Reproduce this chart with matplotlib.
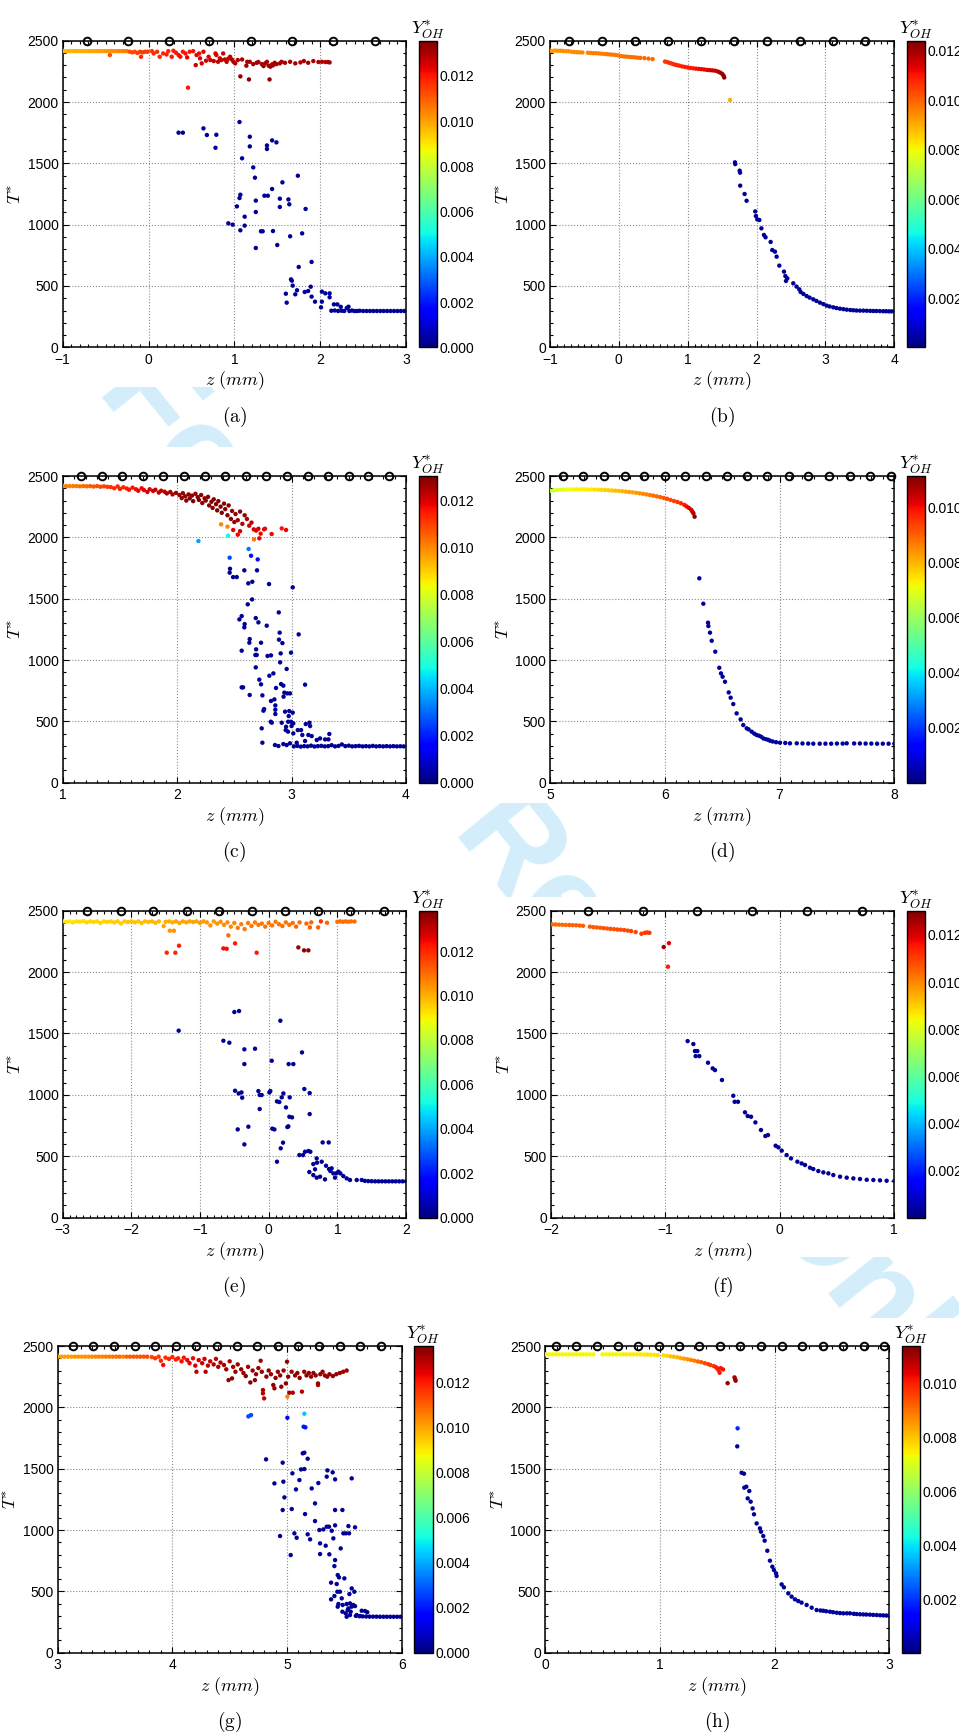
"""Flame-front scatter panels (a)-(h): T* versus z, coloured by Y*_OH."""

import numpy as np
import matplotlib
matplotlib.use("Agg")
import matplotlib.pyplot as plt
from matplotlib.colors import Normalize
from matplotlib.ticker import AutoMinorLocator, FormatStrFormatter, MultipleLocator
from matplotlib.transforms import Bbox, TransformedBbox

# ---------------------------------------------------------------- data
# hot points: (z [mm], T*, Y*_OH); cold points: (z, T*) with Y*_OH ~ 0
A_HOT = [
    (-1.00, 2415, 0.0096), (-0.97, 2415, 0.0096), (-0.94, 2415, 0.0097), (-0.91, 2415, 0.0097),
    (-0.88, 2415, 0.0097), (-0.85, 2415, 0.0098), (-0.82, 2415, 0.0098), (-0.79, 2415, 0.0098),
    (-0.76, 2415, 0.0099), (-0.73, 2415, 0.0099), (-0.70, 2415, 0.0099), (-0.67, 2415, 0.0100),
    (-0.64, 2415, 0.0100), (-0.61, 2415, 0.0100), (-0.58, 2415, 0.0101), (-0.55, 2415, 0.0101),
    (-0.52, 2415, 0.0101), (-0.49, 2415, 0.0102), (-0.45, 2383, 0.0112), (-0.46, 2415, 0.0102),
    (-0.43, 2415, 0.0102), (-0.40, 2415, 0.0103), (-0.37, 2415, 0.0103), (-0.34, 2415, 0.0104),
    (-0.31, 2415, 0.0104), (-0.28, 2415, 0.0105), (-0.25, 2415, 0.0105), (-0.22, 2410, 0.0112),
    (-0.19, 2405, 0.0113), (-0.16, 2410, 0.0113), (-0.13, 2400, 0.0114), (-0.10, 2410, 0.0114),
    (-0.087, 2369, 0.0118), (-0.07, 2405, 0.0115), (-0.04, 2410, 0.0115), (-0.01, 2410, 0.0115),
    (0.04, 2415, 0.0116), (0.06, 2396, 0.0117), (0.10, 2410, 0.0117), (0.13, 2369, 0.0118),
    (0.17, 2396, 0.0118), (0.21, 2388, 0.0119), (0.23, 2415, 0.0118), (0.27, 2369, 0.0120),
    (0.29, 2418, 0.0119), (0.32, 2402, 0.0120), (0.35, 2383, 0.0121), (0.37, 2369, 0.0122),
    (0.40, 2410, 0.0120), (0.43, 2396, 0.0121), (0.45, 2364, 0.0123), (0.46, 2117, 0.0120),
    (0.48, 2410, 0.0121), (0.52, 2415, 0.0121), (0.55, 2301, 0.0127), (0.56, 2383, 0.0123),
    (0.59, 2396, 0.0122), (0.60, 2356, 0.0124), (0.62, 2315, 0.0127), (0.64, 2410, 0.0123),
    (0.67, 2337, 0.0126), (0.70, 2369, 0.0125), (0.72, 2342, 0.0126), (0.76, 2334, 0.0127),
    (0.78, 2396, 0.0124), (0.79, 2383, 0.0125), (0.81, 2328, 0.0128), (0.83, 2356, 0.0127),
    (0.85, 2342, 0.0128), (0.87, 2396, 0.0126), (0.89, 2347, 0.0128), (0.91, 2328, 0.0129),
    (0.93, 2353, 0.0128), (0.95, 2369, 0.0128), (0.97, 2347, 0.0129), (0.99, 2328, 0.0130),
    (1.01, 2315, 0.0130), (1.04, 2342, 0.0129), (1.07, 2209, 0.0134), (1.09, 2347, 0.0130),
    (1.14, 2296, 0.0131), (1.15, 2328, 0.0130), (1.17, 2184, 0.0135), (1.18, 2328, 0.0130),
    (1.22, 2309, 0.0131), (1.26, 2320, 0.0131), (1.28, 2326, 0.0130), (1.32, 2309, 0.0131),
    (1.34, 2293, 0.0132), (1.36, 2315, 0.0131), (1.38, 2328, 0.0130), (1.40, 2296, 0.0132),
    (1.41, 2184, 0.0135), (1.42, 2288, 0.0132), (1.44, 2307, 0.0131), (1.45, 2299, 0.0132),
    (1.47, 2320, 0.0131), (1.49, 2309, 0.0131), (1.53, 2315, 0.0131), (1.55, 2328, 0.0130),
    (1.59, 2320, 0.0131), (1.65, 2328, 0.0130), (1.71, 2315, 0.0131), (1.77, 2323, 0.0130),
    (1.81, 2334, 0.0130), (1.86, 2320, 0.0131), (1.92, 2334, 0.0130), (1.98, 2326, 0.0130),
    (2.02, 2328, 0.0130), (2.06, 2326, 0.0130), (2.09, 2326, 0.0130), (2.11, 2323, 0.0130),
]
A_COLD = [
    (0.35, 1750), (0.40, 1750), (0.64, 1785), (0.68, 1731), (0.79, 1733), (0.78, 1627),
    (1.06, 1837), (1.18, 1717), (1.18, 1638), (1.38, 1646), (1.38, 1617), (1.44, 1687),
    (1.49, 1671), (1.09, 1541), (1.22, 1467), (1.24, 1383), (1.74, 1399), (1.56, 1345),
    (1.44, 1291), (1.35, 1236), (1.39, 1236), (1.07, 1244), (1.06, 1217), (1.53, 1212),
    (1.63, 1206), (1.25, 1196), (1.03, 1149), (1.53, 1144), (1.64, 1166), (1.83, 1128),
    (1.12, 1065), (1.25, 1103), (0.93, 1011), (0.98, 1000), (1.12, 992), (1.07, 954),
    (1.31, 946), (1.33, 946), (1.45, 948), (1.79, 929), (1.65, 905), (1.50, 834),
    (1.25, 810), (1.75, 655), (1.90, 696), (1.66, 554), (1.67, 543), (1.68, 503),
    (1.60, 437), (1.61, 364), (1.71, 432), (1.73, 465), (1.82, 451), (1.86, 459),
    (1.89, 494), (1.90, 413), (1.94, 372), (2.01, 326), (2.02, 454), (2.02, 372),
    (2.06, 440), (2.11, 440), (2.11, 408), (2.13, 298), (2.16, 350), (2.17, 300),
    (2.20, 350), (2.21, 296), (2.24, 330), (2.25, 298), (2.28, 296), (2.31, 320),
    (2.33, 331), (2.34, 296), (2.37, 300), (2.40, 296), (2.43, 296), (2.46, 298),
    (2.50, 296), (2.54, 296), (2.58, 296), (2.62, 296), (2.66, 296), (2.70, 296),
    (2.74, 296), (2.78, 296), (2.82, 296), (2.86, 296), (2.90, 296), (2.94, 296), (2.98, 296),
]

B_HOT = [
    (-1.00, 2418, 0.0093), (-0.97, 2416, 0.0093), (-0.93, 2420, 0.0093), (-0.89, 2418, 0.0093),
    (-0.85, 2418, 0.0094), (-0.81, 2416, 0.0094), (-0.77, 2414, 0.0094), (-0.73, 2414, 0.0094),
    (-0.69, 2410, 0.0094), (-0.65, 2408, 0.0095), (-0.61, 2406, 0.0095), (-0.57, 2405, 0.0095),
    (-0.53, 2404, 0.0095), (-0.45, 2402, 0.0095), (-0.41, 2400, 0.0096), (-0.37, 2398, 0.0096),
    (-0.33, 2398, 0.0096), (-0.29, 2396, 0.0096), (-0.25, 2394, 0.0096), (-0.21, 2392, 0.0096),
    (-0.17, 2390, 0.0097), (-0.13, 2388, 0.0097), (-0.09, 2386, 0.0097), (-0.05, 2384, 0.0097),
    (-0.01, 2380, 0.0097), (0.03, 2375, 0.0097), (0.07, 2372, 0.0098), (0.11, 2370, 0.0098),
    (0.15, 2368, 0.0098), (0.19, 2366, 0.0098), (0.23, 2364, 0.0098), (0.27, 2362, 0.0098),
    (0.31, 2360, 0.0099), (0.37, 2358, 0.0099), (0.43, 2354, 0.0099), (0.49, 2350, 0.0099),
    (0.67, 2330, 0.0106), (0.70, 2326, 0.0106), (0.73, 2320, 0.0107), (0.76, 2315, 0.0107),
    (0.79, 2309, 0.0107), (0.82, 2304, 0.0108), (0.85, 2300, 0.0108), (0.88, 2296, 0.0108),
    (0.92, 2290, 0.0109), (0.96, 2286, 0.0109), (1.00, 2282, 0.0109), (1.04, 2278, 0.0110),
    (1.08, 2275, 0.0110), (1.12, 2272, 0.0111), (1.16, 2270, 0.0111), (1.20, 2268, 0.0112),
    (1.24, 2265, 0.0112), (1.28, 2262, 0.0113), (1.32, 2260, 0.0114), (1.36, 2258, 0.0115),
    (1.40, 2255, 0.0116), (1.44, 2248, 0.0117), (1.47, 2240, 0.0119), (1.50, 2230, 0.0120),
    (1.52, 2215, 0.0121), (1.53, 2200, 0.0123), (1.614, 2016, 0.0090),
]
B_COLD = [
    (1.686, 1508), (1.69, 1494), (1.754, 1440), (1.76, 1424), (1.762, 1318), (1.826, 1250),
    (1.855, 1195), (1.98, 1108), (1.99, 1070), (2.01, 1043), (2.04, 1038), (2.07, 970),
    (2.107, 916), (2.13, 897), (2.204, 859), (2.228, 793), (2.267, 780), (2.291, 739),
    (2.33, 666), (2.398, 617), (2.418, 581), (2.446, 562), (2.427, 541), (2.533, 522),
    (2.58, 495), (2.62, 473), (2.64, 451), (2.68, 435), (2.727, 418), (2.77, 405),
    (2.824, 391), (2.87, 378), (2.92, 364), (2.97, 352), (3.017, 340), (3.06, 333),
    (3.114, 326), (3.16, 320), (3.21, 315), (3.26, 311), (3.308, 307), (3.36, 304),
    (3.405, 302), (3.45, 300), (3.50, 299), (3.55, 299), (3.60, 298), (3.65, 297),
    (3.695, 296), (3.74, 296), (3.79, 295), (3.84, 294), (3.88, 294), (3.92, 293),
    (3.96, 293), (4.00, 293),
]

C_HOT = [
    (1.00, 2418, 0.0100), (1.03, 2418, 0.0101), (1.06, 2418, 0.0101), (1.09, 2418, 0.0102),
    (1.12, 2418, 0.0102), (1.15, 2416, 0.0103), (1.18, 2418, 0.0104), (1.21, 2416, 0.0105),
    (1.24, 2418, 0.0106), (1.27, 2414, 0.0107), (1.30, 2418, 0.0108), (1.33, 2412, 0.0109),
    (1.36, 2416, 0.0110), (1.39, 2412, 0.0111), (1.42, 2410, 0.0112), (1.45, 2400, 0.0113),
    (1.48, 2415, 0.0113), (1.50, 2395, 0.0114), (1.53, 2408, 0.0114), (1.56, 2398, 0.0115),
    (1.58, 2388, 0.0116), (1.61, 2405, 0.0116), (1.64, 2392, 0.0117), (1.66, 2380, 0.0118),
    (1.69, 2400, 0.0118), (1.71, 2385, 0.0119), (1.74, 2370, 0.0120), (1.76, 2392, 0.0120),
    (1.79, 2378, 0.0121), (1.81, 2388, 0.0122), (1.84, 2365, 0.0123), (1.86, 2380, 0.0123),
    (1.89, 2372, 0.0124), (1.91, 2358, 0.0125), (1.94, 2370, 0.0125), (1.96, 2350, 0.0126),
    (1.99, 2362, 0.0126), (2.02, 2345, 0.0127), (2.04, 2320, 0.0128), (2.05, 2360, 0.0127),
    (2.07, 2335, 0.0128), (2.08, 2300, 0.0129), (2.10, 2350, 0.0128), (2.11, 2318, 0.0129),
    (2.13, 2340, 0.0128), (2.14, 2295, 0.0129), (2.16, 2355, 0.0128), (2.18, 2328, 0.0129),
    (2.19, 2305, 0.0129), (2.21, 2345, 0.0128), (2.22, 2280, 0.0130), (2.24, 2318, 0.0129),
    (2.25, 2300, 0.0129), (2.27, 2330, 0.0129), (2.28, 2260, 0.0130), (2.30, 2290, 0.0130),
    (2.31, 2240, 0.0130), (2.32, 2310, 0.0129), (2.34, 2270, 0.0130), (2.35, 2220, 0.0130),
    (2.36, 2295, 0.0129), (2.38, 2250, 0.0130), (2.39, 2200, 0.0130), (2.41, 2275, 0.0129),
    (2.42, 2230, 0.0130), (2.44, 2180, 0.0130), (2.45, 2260, 0.0129), (2.47, 2150, 0.0128),
    (2.48, 2215, 0.0129), (2.50, 2125, 0.0127), (2.51, 2190, 0.0128), (2.53, 2140, 0.0126),
    (2.55, 2210, 0.0128), (2.55, 2050, 0.0120), (2.57, 2110, 0.0124), (2.59, 2180, 0.0127),
    (2.61, 2150, 0.0125), (2.63, 2095, 0.0122), (2.65, 2120, 0.0123), (2.67, 2065, 0.0120),
    (2.69, 2055, 0.0119), (2.71, 2070, 0.0120), (2.73, 2030, 0.0118), (2.76, 2065, 0.0119),
    (2.384, 2106, 0.0100), (2.44, 2087, 0.0100), (2.445, 2013, 0.0048), (2.186, 1970, 0.0037),
    (2.672, 1983, 0.0102), (2.718, 1992, 0.0118), (2.826, 2027, 0.0118), (2.914, 2073, 0.0116),
    (2.952, 2060, 0.0118), (2.768, 2070, 0.0118), (2.53, 2022, 0.0118), (2.49, 2060, 0.0119),
    (2.625, 1905, 0.0032), (2.459, 1834, 0.0026), (2.646, 1850, 0.0018), (2.704, 1820, 0.0018),
]
C_COLD = [
    (2.462, 1744), (2.459, 1712), (2.587, 1731), (2.489, 1676), (2.521, 1676), (2.698, 1731),
    (2.622, 1625), (2.657, 1638), (2.803, 1619), (3.01, 1592), (2.617, 1454), (2.655, 1494),
    (2.544, 1331), (2.564, 1358), (2.59, 1293), (2.587, 1266), (2.687, 1342), (2.71, 1307),
    (2.783, 1280), (2.888, 1388), (3.062, 1209), (2.896, 1223), (2.634, 1171), (2.631, 1141),
    (2.733, 1141), (2.89, 1166), (2.92, 1138), (2.564, 1076), (2.69, 1087), (2.684, 1041),
    (2.695, 1041), (2.79, 1033), (2.82, 1038), (2.905, 1054), (2.995, 1060), (2.687, 940),
    (2.90, 981), (2.957, 927), (2.806, 872), (2.841, 891), (2.718, 840), (2.733, 802),
    (2.864, 772), (2.908, 804), (2.928, 791), (3.118, 799), (2.564, 777), (2.576, 777),
    (2.634, 715), (2.745, 712), (2.937, 734), (2.963, 728), (2.986, 728), (2.85, 679),
    (2.82, 666), (2.93, 701), (2.858, 630), (2.76, 600), (2.754, 587), (2.858, 595),
    (2.858, 560), (2.943, 579), (2.98, 584), (3.01, 571), (2.975, 543), (2.97, 497),
    (2.995, 497), (3.015, 484), (3.00, 462), (2.818, 497), (2.827, 489), (2.914, 489),
    (2.952, 456), (2.949, 429), (2.969, 416), (3.015, 402), (3.054, 429), (3.083, 429),
    (3.124, 478), (3.156, 489), (3.162, 462), (3.094, 389), (3.147, 389), (3.176, 380),
    (3.33, 397), (3.249, 361), (3.293, 353), (3.322, 353), (3.22, 348), (3.118, 340),
    (3.045, 326), (2.739, 443), (2.745, 326), (2.855, 307), (2.885, 299), (2.928, 315),
    (2.957, 307), (2.986, 321), (3.02, 296), (3.05, 300), (3.08, 294), (3.11, 298),
    (3.14, 296), (3.17, 302), (3.20, 295), (3.23, 298), (3.26, 300), (3.29, 296),
    (3.32, 298), (3.35, 306), (3.38, 296), (3.41, 300), (3.44, 312), (3.47, 298),
    (3.50, 302), (3.53, 296), (3.56, 298), (3.59, 300), (3.62, 296), (3.65, 298),
    (3.68, 296), (3.71, 300), (3.74, 296), (3.77, 298), (3.80, 296), (3.83, 298),
    (3.86, 296), (3.89, 298), (3.92, 296), (3.95, 297), (3.98, 296),
]

D_HOT = [
    (5.00, 2380, 0.0064), (5.03, 2383, 0.0066), (5.06, 2386, 0.0068), (5.09, 2388, 0.0069),
    (5.12, 2389, 0.0070), (5.15, 2390, 0.0071), (5.18, 2391, 0.0071), (5.21, 2391, 0.0072),
    (5.24, 2391, 0.0072), (5.27, 2391, 0.0073), (5.30, 2391, 0.0073), (5.33, 2390, 0.0074),
    (5.36, 2390, 0.0074), (5.39, 2389, 0.0075), (5.42, 2388, 0.0075), (5.45, 2387, 0.0076),
    (5.48, 2386, 0.0077), (5.51, 2384, 0.0077), (5.54, 2382, 0.0078), (5.57, 2380, 0.0079),
    (5.60, 2378, 0.0079), (5.63, 2376, 0.0080), (5.66, 2373, 0.0081), (5.69, 2370, 0.0082),
    (5.72, 2367, 0.0082), (5.75, 2363, 0.0083), (5.78, 2359, 0.0084), (5.81, 2355, 0.0085),
    (5.84, 2350, 0.0086), (5.87, 2345, 0.0087), (5.90, 2340, 0.0088), (5.93, 2334, 0.0089),
    (5.96, 2328, 0.0090), (5.99, 2321, 0.0091), (6.02, 2314, 0.0092), (6.05, 2305, 0.0093),
    (6.08, 2296, 0.0094), (6.11, 2288, 0.0095), (6.14, 2278, 0.0097), (6.17, 2265, 0.0098),
    (6.19, 2252, 0.0100), (6.21, 2240, 0.0101), (6.23, 2225, 0.0103), (6.24, 2210, 0.0104),
    (6.25, 2195, 0.0106), (6.26, 2168, 0.0110),
]
D_COLD = [
    (6.301, 1666), (6.336, 1459), (6.377, 1304), (6.38, 1277), (6.394, 1223), (6.409, 1157),
    (6.44, 1068), (6.475, 937), (6.49, 891), (6.504, 864), (6.525, 823), (6.557, 736),
    (6.574, 693), (6.597, 641), (6.626, 565), (6.661, 516), (6.684, 470), (6.714, 443),
    (6.73, 435), (6.757, 416), (6.78, 400), (6.80, 389), (6.82, 383), (6.84, 375),
    (6.859, 361), (6.88, 355), (6.90, 350), (6.917, 342), (6.94, 336), (6.97, 330),
    (7.004, 326), (7.05, 324), (7.091, 321), (7.15, 321), (7.20, 320), (7.25, 319),
    (7.294, 318), (7.35, 318), (7.40, 318), (7.45, 318), (7.50, 319), (7.55, 319),
    (7.585, 321), (7.65, 320), (7.70, 320), (7.75, 319), (7.80, 319), (7.85, 318),
    (7.90, 318), (7.95, 318), (8.00, 318),
]

E_HOT = [
    (-3.00, 2413, 0.0092), (-2.95, 2408, 0.0092), (-2.90, 2413, 0.0092), (-2.85, 2405, 0.0093),
    (-2.80, 2413, 0.0093), (-2.75, 2410, 0.0093), (-2.70, 2415, 0.0093), (-2.65, 2405, 0.0094),
    (-2.60, 2413, 0.0094), (-2.55, 2408, 0.0094), (-2.50, 2413, 0.0094), (-2.45, 2400, 0.0095),
    (-2.40, 2413, 0.0095), (-2.35, 2408, 0.0095), (-2.30, 2413, 0.0095), (-2.25, 2405, 0.0096),
    (-2.20, 2413, 0.0096), (-2.15, 2396, 0.0096), (-2.10, 2413, 0.0096), (-2.05, 2408, 0.0097),
    (-2.00, 2413, 0.0097), (-1.95, 2405, 0.0097), (-1.90, 2413, 0.0097), (-1.85, 2400, 0.0098),
    (-1.80, 2413, 0.0098), (-1.75, 2408, 0.0098), (-1.70, 2413, 0.0099), (-1.65, 2402, 0.0099),
    (-1.60, 2413, 0.0099), (-1.53, 2375, 0.0101), (-1.50, 2410, 0.0100), (-1.45, 2413, 0.0100),
    (-1.44, 2337, 0.0104), (-1.40, 2405, 0.0100), (-1.38, 2337, 0.0104), (-1.35, 2413, 0.0101),
    (-1.30, 2400, 0.0101), (-1.25, 2413, 0.0101), (-1.20, 2405, 0.0102), (-1.15, 2413, 0.0102),
    (-1.10, 2408, 0.0102), (-1.05, 2413, 0.0102), (-1.00, 2400, 0.0103), (-0.95, 2413, 0.0103),
    (-0.90, 2405, 0.0103), (-0.85, 2380, 0.0104), (-0.80, 2413, 0.0103), (-0.75, 2395, 0.0104),
    (-0.70, 2410, 0.0104), (-0.65, 2385, 0.0105), (-0.60, 2405, 0.0105), (-0.55, 2370, 0.0106),
    (-0.50, 2400, 0.0106), (-0.45, 2360, 0.0107), (-0.40, 2390, 0.0107), (-0.35, 2350, 0.0108),
    (-0.30, 2400, 0.0107), (-0.25, 2375, 0.0108), (-0.20, 2405, 0.0107), (-0.15, 2385, 0.0108),
    (-0.10, 2395, 0.0108), (-0.05, 2370, 0.0109), (0.00, 2400, 0.0108), (0.05, 2380, 0.0109),
    (0.10, 2410, 0.0108), (0.15, 2390, 0.0109), (0.20, 2375, 0.0110), (0.25, 2405, 0.0109),
    (0.30, 2385, 0.0110), (0.35, 2400, 0.0110), (0.40, 2370, 0.0111), (0.45, 2405, 0.0110),
    (0.55, 2395, 0.0111), (0.60, 2364, 0.0112), (0.62, 2405, 0.0111), (0.72, 2364, 0.0112),
    (0.76, 2413, 0.0118), (0.85, 2402, 0.0111), (1.00, 2410, 0.0110), (1.04, 2413, 0.0110),
    (1.08, 2410, 0.0110), (1.12, 2413, 0.0110), (1.16, 2410, 0.0110), (1.20, 2413, 0.0110),
    (1.25, 2412, 0.0110),
    (-1.485, 2158, 0.0120), (-1.359, 2158, 0.0120), (-1.306, 2215, 0.0122), (-0.587, 2299, 0.0110),
    (-0.49, 2234, 0.0122), (-0.66, 2193, 0.0124), (-0.612, 2190, 0.0124), (-0.175, 2158, 0.0122),
    (0.432, 2201, 0.0134), (0.515, 2177, 0.0136), (0.578, 2177, 0.0136),
]
E_COLD = [
    (-1.311, 1523), (-0.50, 1675), (-0.432, 1683), (0.17, 1604), (-0.66, 1441), (-0.573, 1425),
    (-0.354, 1371), (-0.199, 1376), (-0.354, 1251), (0.485, 1346), (0.044, 1278), (0.291, 1251),
    (0.359, 1251), (-0.49, 1034), (-0.437, 1012), (-0.396, 1020), (-0.386, 977), (-0.15, 1031),
    (-0.131, 999), (-0.102, 999), (0.01, 1020), (0.024, 1031), (0.214, 1012), (0.19, 980),
    (0.121, 947), (0.155, 942), (0.252, 898), (0.306, 980), (0.519, 1048), (0.597, 1015),
    (-0.131, 885), (0.301, 822), (0.34, 817), (0.597, 844), (-0.451, 719), (-0.296, 741),
    (0.053, 725), (0.083, 719), (0.272, 738), (0.286, 744), (-0.354, 597), (0.209, 611),
    (0.175, 565), (0.121, 456), (0.447, 510), (0.50, 510), (0.529, 537), (0.578, 543),
    (0.607, 537), (0.592, 372), (0.65, 437), (0.675, 394), (0.699, 483), (0.704, 448),
    (0.772, 456), (0.786, 613), (0.874, 613), (0.835, 423), (0.879, 396), (0.898, 380),
    (0.917, 402), (0.942, 361), (0.985, 361), (1.015, 375), (1.044, 361), (0.65, 347),
    (0.699, 326), (0.748, 334), (0.82, 312), (0.966, 326), (1.087, 339), (1.136, 320),
    (1.184, 307), (1.282, 307), (1.355, 307), (1.40, 300), (1.45, 298), (1.50, 297),
    (1.55, 296), (1.60, 296), (1.65, 296), (1.70, 296), (1.75, 296), (1.80, 296),
    (1.85, 296), (1.90, 296), (1.95, 296), (2.00, 296),
]

F_HOT = [
    (-1.99, 2388, 0.0104), (-1.96, 2388, 0.0104), (-1.93, 2386, 0.0104), (-1.90, 2385, 0.0104),
    (-1.87, 2384, 0.0104), (-1.84, 2383, 0.0105), (-1.81, 2382, 0.0105), (-1.78, 2381, 0.0105),
    (-1.75, 2379, 0.0105), (-1.72, 2377, 0.0105), (-1.66, 2370, 0.0106), (-1.63, 2366, 0.0106),
    (-1.60, 2364, 0.0106), (-1.57, 2361, 0.0106), (-1.54, 2358, 0.0107), (-1.51, 2355, 0.0107),
    (-1.48, 2352, 0.0107), (-1.45, 2350, 0.0107), (-1.42, 2347, 0.0108), (-1.39, 2345, 0.0108),
    (-1.36, 2342, 0.0108), (-1.33, 2338, 0.0108), (-1.30, 2334, 0.0109), (-1.26, 2326, 0.0109),
    (-1.21, 2312, 0.0110), (-1.18, 2320, 0.0110), (-1.16, 2323, 0.0110), (-1.14, 2320, 0.0111),
    (-1.015, 2204, 0.0127), (-0.969, 2236, 0.0118), (-0.978, 2044, 0.0115),
]
F_COLD = [
    (-0.806, 1438), (-0.756, 1414), (-0.742, 1357), (-0.721, 1357), (-0.736, 1316), (-0.704, 1316),
    (-0.628, 1262), (-0.587, 1216), (-0.567, 1202), (-0.506, 1121), (-0.407, 993), (-0.395, 944),
    (-0.366, 944), (-0.305, 858), (-0.281, 828), (-0.252, 822), (-0.214, 776), (-0.165, 714),
    (-0.127, 665), (-0.104, 673), (-0.037, 586), (-0.013, 573), (0.016, 546), (0.059, 510),
    (0.097, 483), (0.153, 456), (0.19, 442), (0.22, 429), (0.263, 407), (0.292, 396),
    (0.336, 380), (0.38, 369), (0.424, 361), (0.467, 347), (0.526, 334), (0.584, 326),
    (0.642, 320), (0.70, 315), (0.759, 309), (0.817, 307), (0.875, 304), (0.933, 301), (1.00, 299),
]

G_HOT = [
    (3.00, 2413, 0.0100), (3.03, 2413, 0.0100), (3.06, 2413, 0.0101), (3.09, 2413, 0.0101),
    (3.12, 2413, 0.0101), (3.15, 2413, 0.0102), (3.18, 2413, 0.0102), (3.21, 2413, 0.0102),
    (3.24, 2413, 0.0103), (3.27, 2413, 0.0103), (3.30, 2413, 0.0104), (3.33, 2413, 0.0104),
    (3.36, 2413, 0.0105), (3.39, 2413, 0.0105), (3.42, 2413, 0.0106), (3.45, 2413, 0.0106),
    (3.48, 2413, 0.0107), (3.51, 2413, 0.0107), (3.54, 2413, 0.0108), (3.57, 2413, 0.0105),
    (3.60, 2413, 0.0109), (3.63, 2413, 0.0110), (3.66, 2413, 0.0110), (3.69, 2413, 0.0111),
    (3.72, 2413, 0.0112), (3.75, 2413, 0.0112), (3.78, 2413, 0.0113), (3.82, 2410, 0.0114),
    (3.85, 2400, 0.0116), (3.88, 2413, 0.0115), (3.90, 2380, 0.0118), (3.92, 2345, 0.0122),
    (3.94, 2405, 0.0117), (3.97, 2395, 0.0118), (4.00, 2410, 0.0118), (4.03, 2390, 0.0120),
    (4.05, 2400, 0.0120), (4.08, 2375, 0.0122), (4.10, 2405, 0.0121), (4.13, 2385, 0.0123),
    (4.15, 2360, 0.0124), (4.18, 2400, 0.0123), (4.20, 2340, 0.0126), (4.21, 2290, 0.0128),
    (4.23, 2385, 0.0125), (4.26, 2360, 0.0127), (4.28, 2395, 0.0126), (4.29, 2290, 0.0130),
    (4.31, 2340, 0.0129), (4.33, 2375, 0.0128), (4.36, 2350, 0.0130), (4.38, 2395, 0.0128),
    (4.40, 2330, 0.0131), (4.42, 2365, 0.0130), (4.45, 2345, 0.0131), (4.47, 2310, 0.0132),
    (4.49, 2222, 0.0134), (4.50, 2375, 0.0130), (4.52, 2236, 0.0134), (4.53, 2330, 0.0132),
    (4.55, 2290, 0.0133), (4.57, 2350, 0.0132), (4.60, 2310, 0.0133), (4.62, 2280, 0.0133),
    (4.64, 2255, 0.0134), (4.66, 2330, 0.0132), (4.68, 2203, 0.0135), (4.70, 2300, 0.0133),
    (4.72, 2222, 0.0134), (4.73, 2270, 0.0134), (4.75, 2320, 0.0133), (4.77, 2380, 0.0131),
    (4.78, 2290, 0.0133), (4.79, 2114, 0.0130), (4.79, 2141, 0.0131), (4.80, 2073, 0.0127),
    (4.82, 2250, 0.0134), (4.84, 2300, 0.0133), (4.86, 2270, 0.0134), (4.88, 2182, 0.0134),
    (4.89, 2155, 0.0133), (4.90, 2240, 0.0134), (4.92, 2290, 0.0133), (4.94, 2260, 0.0134),
    (4.95, 2168, 0.0134), (4.97, 2300, 0.0133), (4.99, 2195, 0.0134), (5.00, 2372, 0.0134),
    (5.01, 2250, 0.0134), (5.02, 2119, 0.0132), (5.04, 2290, 0.0133), (5.05, 2119, 0.0131),
    (5.07, 2260, 0.0134), (5.09, 2280, 0.0133), (5.11, 2240, 0.0134), (5.13, 2128, 0.0130),
    (5.15, 2290, 0.0133), (5.17, 2260, 0.0134), (5.19, 2280, 0.0133), (5.21, 2250, 0.0134),
    (5.23, 2280, 0.0133), (5.25, 2260, 0.0134), (5.27, 2182, 0.0132), (5.27, 2195, 0.0132),
    (5.29, 2270, 0.0133), (5.31, 2290, 0.0133), (5.33, 2260, 0.0133), (5.35, 2250, 0.0133),
    (5.37, 2270, 0.0133), (5.40, 2255, 0.0133), (5.43, 2270, 0.0133), (5.46, 2280, 0.0132),
    (5.49, 2290, 0.0132), (5.52, 2300, 0.0131), (5.003, 2087, 0.0105),
    (4.663, 1926, 0.0027), (4.686, 1937, 0.0027), (5.003, 1915, 0.0018), (5.151, 1948, 0.0044),
    (5.145, 1842, 0.0020), (5.16, 1837, 0.0020),
]
G_COLD = [
    (4.817, 1576), (4.962, 1549), (5.137, 1625), (5.151, 1630), (5.18, 1581), (5.122, 1494),
    (5.151, 1497), (5.108, 1407), (4.89, 1380), (4.968, 1394), (5.047, 1462), (5.078, 1331),
    (5.215, 1339), (5.273, 1383), (5.352, 1486), (5.346, 1435), (5.398, 1470), (5.419, 1413),
    (5.564, 1421), (4.977, 1266), (5.041, 1171), (4.962, 1163), (5.244, 1217), (5.157, 1130),
    (5.419, 1163), (5.483, 1163), (5.244, 1073), (5.282, 1000), (5.317, 1005), (5.346, 1027),
    (5.366, 1027), (5.419, 1038), (5.39, 994), (5.535, 1032), (5.593, 1022), (5.491, 973),
    (5.512, 973), (5.541, 973), (5.404, 932), (5.18, 965), (5.201, 924), (5.064, 973),
    (5.084, 937), (4.939, 951), (5.032, 796), (5.288, 891), (5.337, 872), (5.288, 804),
    (5.369, 802), (5.468, 850), (5.419, 755), (5.413, 706), (5.442, 633), (5.453, 614),
    (5.50, 606), (5.384, 571), (5.433, 560), (5.564, 524), (5.544, 478), (5.587, 497),
    (5.439, 497), (5.462, 497), (5.413, 462), (5.477, 443), (5.384, 435), (5.448, 397),
    (5.485, 389), (5.442, 375), (5.52, 397), (5.549, 402), (5.578, 389), (5.535, 361),
    (5.564, 375), (5.593, 380), (5.483, 334), (5.512, 321), (5.529, 348), (5.555, 334),
    (5.52, 293), (5.549, 307), (5.651, 342), (5.637, 299), (5.608, 307), (5.68, 340),
    (5.70, 330), (5.60, 300), (5.63, 298), (5.66, 296), (5.69, 295), (5.72, 294),
    (5.75, 294), (5.78, 294), (5.81, 293), (5.84, 293), (5.87, 293), (5.90, 293),
    (5.93, 293), (5.96, 293), (5.99, 293),
]

H_HOT = [
    (0.00, 2432, 0.0074), (0.03, 2432, 0.0074), (0.06, 2432, 0.0074), (0.09, 2432, 0.0074),
    (0.12, 2432, 0.0074), (0.15, 2432, 0.0074), (0.18, 2432, 0.0074), (0.21, 2432, 0.0074),
    (0.24, 2432, 0.0074), (0.27, 2432, 0.0074), (0.30, 2432, 0.0074), (0.33, 2432, 0.0074),
    (0.36, 2432, 0.0074), (0.39, 2432, 0.0074), (0.42, 2432, 0.0074), (0.50, 2432, 0.0074),
    (0.53, 2432, 0.0074), (0.56, 2432, 0.0074), (0.59, 2432, 0.0074), (0.62, 2432, 0.0074),
    (0.65, 2432, 0.0074), (0.68, 2432, 0.0075), (0.71, 2432, 0.0075), (0.74, 2432, 0.0075),
    (0.77, 2432, 0.0075), (0.80, 2432, 0.0075), (0.83, 2432, 0.0075), (0.86, 2431, 0.0075),
    (0.89, 2430, 0.0076), (0.92, 2429, 0.0076), (0.95, 2428, 0.0076), (0.98, 2426, 0.0077),
    (1.03, 2424, 0.0077), (1.06, 2420, 0.0078), (1.09, 2416, 0.0080), (1.12, 2413, 0.0081),
    (1.15, 2408, 0.0082), (1.18, 2402, 0.0083), (1.21, 2397, 0.0085), (1.24, 2392, 0.0086),
    (1.27, 2386, 0.0088), (1.30, 2380, 0.0089), (1.33, 2374, 0.0091), (1.36, 2368, 0.0093),
    (1.39, 2360, 0.0095), (1.42, 2352, 0.0096), (1.44, 2345, 0.0097), (1.47, 2336, 0.0098),
    (1.49, 2326, 0.0100), (1.50, 2318, 0.0100), (1.51, 2304, 0.0101), (1.52, 2282, 0.0101),
    (1.53, 2320, 0.0101), (1.55, 2309, 0.0102), (1.59, 2197, 0.0112), (1.65, 2244, 0.0110),
    (1.655, 2230, 0.0110), (1.66, 2217, 0.0111), (1.677, 1829, 0.0019),
]
H_COLD = [
    (1.674, 1682), (1.712, 1467), (1.733, 1459), (1.735, 1345), (1.753, 1353), (1.779, 1318),
    (1.765, 1258), (1.791, 1231), (1.808, 1176), (1.82, 1128), (1.843, 1054), (1.872, 1014),
    (1.881, 986), (1.901, 951), (1.913, 913), (1.936, 831), (1.959, 750), (1.98, 701),
    (1.994, 674), (2.012, 647), (2.017, 625), (2.061, 557), (2.081, 533), (2.119, 484),
    (2.148, 457), (2.177, 435), (2.206, 421), (2.235, 408), (2.279, 389), (2.323, 367),
    (2.366, 348), (2.40, 344), (2.424, 342), (2.45, 338), (2.483, 334), (2.51, 330),
    (2.541, 326), (2.57, 323), (2.599, 321), (2.63, 321), (2.657, 321), (2.69, 317),
    (2.715, 315), (2.745, 313), (2.773, 312), (2.80, 311), (2.831, 310), (2.86, 308),
    (2.89, 307), (2.92, 305), (2.948, 304), (2.975, 303), (3.00, 302),
]

# Y*_OH assigned to the cold-side points
Y_COLD = 0.0003

# z-positions of the open circles drawn at T* = 2500
A_RINGS = [-0.72, -0.24, 0.24, 0.71, 1.19, 1.67, 2.15, 2.64]
B_RINGS = [-0.72, -0.24, 0.23, 0.72, 1.19, 1.67, 2.15, 2.63, 3.11, 3.58]
C_RINGS = [1.16, 1.34, 1.52, 1.70, 1.88, 2.06, 2.24, 2.42, 2.60, 2.78, 2.96, 3.14, 3.32, 3.50, 3.67, 3.85]
D_RINGS = [5.11, 5.29, 5.47, 5.65, 5.82, 6.00, 6.18, 6.36, 6.54, 6.72, 6.89, 7.08, 7.25, 7.43, 7.61, 7.79, 7.97]
E_RINGS = [-2.64, -2.15, -1.68, -1.19, -0.72, -0.24, 0.24, 0.72, 1.19, 1.68]
F_RINGS = [-1.68, -1.20, -0.72, -0.24, 0.24, 0.72]
G_RINGS = [3.13, 3.31, 3.49, 3.67, 3.85, 4.03, 4.21, 4.39, 4.56, 4.74, 4.92, 5.10, 5.28, 5.46, 5.64, 5.82]
H_RINGS = [0.09, 0.27, 0.45, 0.63, 0.81, 0.99, 1.17, 1.34, 1.52, 1.70, 1.88, 2.06, 2.24, 2.42, 2.60, 2.78, 2.95]

# axis ranges and colour scales
Z_LIMITS = {"a": (-1, 3), "b": (-1, 4), "c": (1, 4), "d": (5, 8),
            "e": (-3, 2), "f": (-2, 1), "g": (3, 6), "h": (0, 3)}
Y_RANGE = {"a": (0.0, 0.01356), "b": (1e-5, 0.0124), "c": (0.0, 0.01305), "d": (1e-5, 0.01114),
           "e": (0.0, 0.01382), "f": (1e-5, 0.01303), "g": (0.0, 0.0136), "h": (1e-5, 0.01141)}
CB_TICKS_FULL = [0.0, 0.002, 0.004, 0.006, 0.008, 0.010, 0.012]
CB_TICKS_NOZERO = [0.002, 0.004, 0.006, 0.008, 0.010, 0.012]
T_MAX = 2500

# ---------------------------------------------------------------- layout (pixels)
W, H = 959, 1735
AXES_PX = {  # left, top, right, bottom
    "a": (62.7, 40.7, 406.0, 347.3), "b": (550.0, 40.7, 894.3, 347.3),
    "c": (62.7, 476.0, 406.0, 782.7), "d": (550.0, 476.0, 894.3, 782.7),
    "e": (62.7, 910.7, 406.0, 1217.7), "f": (551.0, 910.7, 894.3, 1217.7),
    "g": (57.7, 1346.0, 401.7, 1652.7), "h": (545.3, 1346.0, 889.3, 1652.7),
}
CBAR_X = {"a": (419.3, 436.7), "b": (907.3, 925.0), "c": (419.3, 436.7), "d": (907.3, 925.0),
          "e": (419.3, 436.7), "f": (907.3, 925.0), "g": (414.3, 432.7), "h": (902.3, 920.0)}
CAPTION_Y = {"a": 417, "b": 417, "c": 852, "d": 852, "e": 1287, "f": 1287, "g": 1722, "h": 1722}

plt.rcParams["font.family"] = ["Liberation Sans", "DejaVu Sans"]
plt.rcParams["mathtext.fontset"] = "cm"
plt.rcParams["axes.unicode_minus"] = True


def px_rect(left, top, right, bottom):
    return [left / W, 1 - bottom / H, (right - left) / W, (bottom - top) / H]


fig = plt.figure(figsize=(W / 100, H / 100), dpi=100)

# reviewer watermark, only visible in the gaps between the sub-figures
for y0, y1 in [(387, 447), (803, 897), (1257, 1318)]:
    clip = TransformedBbox(Bbox([[0, 1 - y1 / H], [1, 1 - y0 / H]]), fig.transFigure)
    wm = fig.text(545 / W, 1 - 890 / H, "For Peer Review Only", fontsize=94, fontweight="bold",
                  color="#d3eefa", rotation=-51, rotation_mode="anchor",
                  ha="center", va="center", zorder=0)
    wm.set_clip_box(clip)
    wm.set_clip_on(True)

panels = {
    "a": (A_HOT, A_COLD, A_RINGS), "b": (B_HOT, B_COLD, B_RINGS),
    "c": (C_HOT, C_COLD, C_RINGS), "d": (D_HOT, D_COLD, D_RINGS),
    "e": (E_HOT, E_COLD, E_RINGS), "f": (F_HOT, F_COLD, F_RINGS),
    "g": (G_HOT, G_COLD, G_RINGS), "h": (H_HOT, H_COLD, H_RINGS),
}

for key, (hot, cold, rings) in panels.items():
    left, top, right, bottom = AXES_PX[key]
    ax = fig.add_axes(px_rect(left, top, right, bottom))
    ax.set_facecolor("white")
    ax.set_zorder(2)
    norm = Normalize(*Y_RANGE[key])

    hot = np.array(hot, dtype=float)
    cold = np.array(cold, dtype=float)
    ax.scatter(cold[:, 0], cold[:, 1], c=np.full(len(cold), Y_COLD), cmap="jet", norm=norm,
               s=10, linewidths=0, zorder=3)
    sc = ax.scatter(hot[:, 0], hot[:, 1], c=hot[:, 2], cmap="jet", norm=norm,
                    s=10, linewidths=0, zorder=3)
    ax.plot(rings, [T_MAX] * len(rings), linestyle="none", marker="o", ms=5.5,
            mfc="none", mec="black", mew=1.4, clip_on=False, zorder=6)

    ax.set_xlim(*Z_LIMITS[key])
    ax.set_ylim(0, T_MAX)
    ax.xaxis.set_major_locator(MultipleLocator(1))
    ax.yaxis.set_major_locator(MultipleLocator(500))
    ax.xaxis.set_minor_locator(AutoMinorLocator(10))
    ax.yaxis.set_minor_locator(AutoMinorLocator(5))
    ax.tick_params(which="both", direction="in", top=True, right=True, labelsize=10, width=0.8)
    ax.tick_params(which="major", length=4)
    ax.tick_params(which="minor", length=2)
    ax.tick_params(axis="x", pad=4)
    ax.tick_params(axis="y", pad=3)
    ax.grid(True, which="major", linestyle=":", color="0.55", linewidth=0.8)
    ax.set_axisbelow(True)
    for sp in ax.spines.values():
        sp.set_linewidth(1.1)

    ax.set_xlabel(r"$z\ (mm)$", fontsize=13, labelpad=2)
    ax.set_ylabel(r"$T^{*}$", fontsize=13, labelpad=1)

    cx0, cx1 = CBAR_X[key]
    cax = fig.add_axes(px_rect(cx0, top, cx1, bottom))
    ticks = CB_TICKS_FULL if Y_RANGE[key][0] == 0 else CB_TICKS_NOZERO
    cb = fig.colorbar(sc, cax=cax, ticks=ticks)
    cb.ax.yaxis.set_major_formatter(FormatStrFormatter("%.3f"))
    cb.ax.tick_params(length=0, labelsize=10, pad=2)
    cb.outline.set_linewidth(1.0)
    cax.set_title(r"$Y^{*}_{OH}$", fontsize=13.5, pad=3)

    fig.text((left + right) / 2 / W, 1 - CAPTION_Y[key] / H, r"$\mathrm{(%s)}$" % key,
             fontsize=14, ha="center", va="center")

fig.savefig("out.png", dpi=100, facecolor="white")
